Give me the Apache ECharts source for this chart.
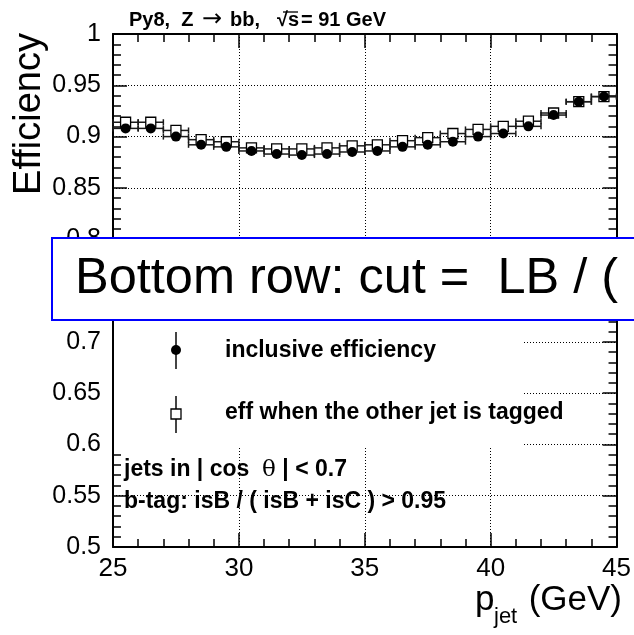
<!DOCTYPE html>
<html>
<head>
<meta charset="utf-8">
<script src="https://cdn.jsdelivr.net/npm/echarts@6/dist/echarts.min.js"></script>
<style>
html, body { margin: 0; padding: 0; background: #fff; }
#chart { width: 634px; height: 635px; }
</style>
</head>
<body>
<div id="chart"></div>
<script>
// bins of 1 GeV in p_jet
const binCenters = [25.5, 26.5, 27.5, 28.5, 29.5, 30.5, 31.5, 32.5, 33.5, 34.5,
                    35.5, 36.5, 37.5, 38.5, 39.5, 40.5, 41.5, 42.5, 43.5, 44.5];
const binHalfWidth = 0.5;
// inclusive efficiency (filled circles)
const effInclusive = [0.908, 0.908, 0.900, 0.892, 0.890, 0.886, 0.883, 0.882, 0.883, 0.885,
                      0.886, 0.890, 0.892, 0.895, 0.900, 0.903, 0.910, 0.921, 0.934, 0.939];
const errInclusive = [0.002, 0.002, 0.002, 0.002, 0.002, 0.002, 0.002, 0.002, 0.002, 0.002,
                      0.002, 0.002, 0.002, 0.002, 0.002, 0.002, 0.002, 0.002, 0.002, 0.002];
// efficiency when the other jet is tagged (open squares)
const effTagged = [0.914, 0.914, 0.906, 0.897, 0.895, 0.889, 0.888, 0.888, 0.889, 0.891,
                   0.892, 0.896, 0.899, 0.903, 0.907, 0.910, 0.915, 0.923, 0.934, 0.939];
const errTagged = [0.003, 0.003, 0.003, 0.003, 0.003, 0.003, 0.003, 0.003, 0.003, 0.003,
                   0.003, 0.003, 0.003, 0.003, 0.003, 0.003, 0.003, 0.003, 0.003, 0.003];

const xRange = [25, 45], xStep = 5;
const yRange = [0.5, 1], yStep = 0.05;

const FONT = 'Liberation Sans, Arial, Helvetica, sans-serif';

function pack(eff, err) {
  return binCenters.map((x, i) => [x, eff[i], err[i]]);
}

// horizontal bin-width bar with end caps + vertical stat error
function errorBar(params, api) {
  const x = api.value(0), y = api.value(1), e = api.value(2);
  const l = api.coord([x - binHalfWidth, y]);
  const r = api.coord([x + binHalfWidth, y]);
  const lo = api.coord([x, y - e]);
  const hi = api.coord([x, y + e]);
  const st = { stroke: '#1a1a1a', lineWidth: 1.5 };
  return {
    type: 'group',
    children: [
      { type: 'line', shape: { x1: l[0], y1: l[1], x2: r[0], y2: r[1] }, style: st },
      { type: 'line', shape: { x1: l[0], y1: l[1] - 3, x2: l[0], y2: l[1] + 3 }, style: st },
      { type: 'line', shape: { x1: r[0], y1: r[1] - 3, x2: r[0], y2: r[1] + 3 }, style: st },
      { type: 'line', shape: { x1: lo[0], y1: lo[1], x2: hi[0], y2: hi[1] }, style: st }
    ]
  };
}

const frameLine = { show: true, onZero: false, lineStyle: { color: '#000', width: 2 } };
const majorTick = { show: true, inside: true, length: 14, lineStyle: { color: '#000', width: 1.5 } };
const minorTick = { show: true, splitNumber: 5, length: 8, lineStyle: { color: '#000', width: 1.5 } };
const gridDots = { show: true, lineStyle: { color: '#000', width: 1, type: [1, 2] } };

const chart = echarts.init(document.getElementById('chart'), null, { renderer: 'canvas' });

const head = { font: 'bold 20px ' + FONT, fill: '#000', verticalAlign: 'middle' };

chart.setOption({
  backgroundColor: '#fff',
  animation: false,
  grid: { left: 113, right: 12, top: 34, bottom: 88 },
  xAxis: [
    {
      type: 'value', position: 'bottom', min: xRange[0], max: xRange[1], interval: xStep,
      axisLine: frameLine, axisTick: majorTick, minorTick: minorTick, splitLine: gridDots,
      axisLabel: { color: '#000', fontSize: 26, fontFamily: FONT, margin: 9 }
    },
    {
      type: 'value', position: 'top', min: xRange[0], max: xRange[1], interval: xStep,
      axisLine: frameLine, axisTick: majorTick, minorTick: minorTick,
      splitLine: { show: false }, axisLabel: { show: false }
    }
  ],
  yAxis: [
    {
      type: 'value', position: 'left', min: yRange[0], max: yRange[1], interval: yStep,
      axisLine: frameLine, axisTick: majorTick, minorTick: minorTick, splitLine: gridDots,
      axisLabel: {
        color: '#000', fontSize: 25, fontFamily: FONT, margin: 12,
        formatter: v => String(+v.toFixed(2))
      }
    },
    {
      type: 'value', position: 'right', min: yRange[0], max: yRange[1], interval: yStep,
      axisLine: frameLine, axisTick: majorTick, minorTick: minorTick,
      splitLine: { show: false }, axisLabel: { show: false }
    }
  ],
  series: [
    {
      name: 'tagged bars', type: 'custom', z: 2, renderItem: errorBar,
      encode: { x: 0, y: 1 }, data: pack(effTagged, errTagged)
    },
    {
      name: 'eff when the other jet is tagged', type: 'scatter', z: 3,
      symbol: 'rect', symbolSize: 10,
      itemStyle: { color: '#fff', borderColor: '#000', borderWidth: 1.3, opacity: 1 },
      data: pack(effTagged, errTagged)
    },
    {
      name: 'inclusive bars', type: 'custom', z: 4, renderItem: errorBar,
      encode: { x: 0, y: 1 }, data: pack(effInclusive, errInclusive)
    },
    {
      name: 'inclusive efficiency', type: 'scatter', z: 5,
      symbol: 'circle', symbolSize: 10,
      itemStyle: { color: '#000', opacity: 1 },
      data: pack(effInclusive, errInclusive)
    }
  ],
  graphic: [
    // header, placed piece by piece like the TLatex spacing
    { type: 'text', x: 129, y: 20, z: 50, style: Object.assign({ text: 'Py8,  Z' }, head) },
    { type: 'text', x: 212, y: 20, z: 50, style: Object.assign({}, head, { text: '\u2192', font: '24px DejaVu Sans, sans-serif', align: 'center' }) },
    { type: 'text', x: 230, y: 20, z: 50, style: Object.assign({ text: 'bb,' }, head) },
    { type: 'text', x: 277, y: 20, z: 50, style: Object.assign({ text: '\u221As' }, head) },
    { type: 'line', z: 50, shape: { x1: 283, y1: 12, x2: 298, y2: 12 }, style: { stroke: '#000', lineWidth: 1.3 } },
    { type: 'text', x: 301, y: 20, z: 50, style: Object.assign({ text: '= 91 GeV' }, head) },
    // axis titles
    {
      type: 'text', x: 30, y: 33, rotation: Math.PI / 2, z: 50,
      style: { text: 'Efficiency', font: '38px ' + FONT, fill: '#000', align: 'right', verticalAlign: 'middle' }
    },
    {
      type: 'text', x: 622, y: 600, z: 50,
      style: { text: '(GeV)', font: '35px ' + FONT, fill: '#000', align: 'right', verticalAlign: 'middle' }
    },
    {
      type: 'text', x: 475, y: 600, z: 50,
      style: { text: 'p', font: '35px ' + FONT, fill: '#000', align: 'left', verticalAlign: 'middle' }
    },
    {
      type: 'text', x: 494, y: 617, z: 50,
      style: { text: 'jet', font: '22px ' + FONT, fill: '#000', align: 'left', verticalAlign: 'middle' }
    },
    // legend box
    {
      type: 'rect', z: 20, shape: { x: 114, y: 300, width: 408, height: 146 },
      style: { fill: '#fff' }
    },
    {
      type: 'line', z: 21, shape: { x1: 176, y1: 332, x2: 176, y2: 369 },
      style: { stroke: '#444', lineWidth: 2 }
    },
    {
      type: 'circle', z: 22, shape: { cx: 176, cy: 350, r: 5 }, style: { fill: '#000' }
    },
    {
      type: 'text', z: 22, x: 225, y: 351,
      style: { text: 'inclusive efficiency', font: 'bold 23px ' + FONT, fill: '#000', verticalAlign: 'middle' }
    },
    {
      type: 'line', z: 21, shape: { x1: 176, y1: 396, x2: 176, y2: 433 },
      style: { stroke: '#444', lineWidth: 2 }
    },
    {
      type: 'rect', z: 22, shape: { x: 171, y: 409, width: 10, height: 10 },
      style: { fill: '#fff', stroke: '#000', lineWidth: 1.3 }
    },
    {
      type: 'text', z: 22, x: 225, y: 413,
      style: { text: 'eff when the other jet is tagged', font: 'bold 23px ' + FONT, fill: '#000', verticalAlign: 'middle' }
    },
    // selection notes
    {
      type: 'text', z: 22, x: 124, y: 470,
      style: {
        text: '{a|jets in | cos  }{t|\u03B8}{a| | < 0.7}',
        rich: {
          a: { font: 'bold 23px ' + FONT, fill: '#000' },
          t: { font: '23px DejaVu Serif, serif', fill: '#000' }
        },
        verticalAlign: 'middle'
      }
    },
    {
      type: 'text', z: 22, x: 124, y: 502,
      style: { text: 'b-tag: isB / ( isB + isC ) > 0.95', font: 'bold 23px ' + FONT, fill: '#000', verticalAlign: 'middle' }
    },
    // overlay banner
    {
      type: 'rect', z: 100, shape: { x: 52, y: 238, width: 600, height: 82 },
      style: { fill: '#fff', stroke: '#0000ff', lineWidth: 2 }
    },
    {
      type: 'text', z: 101, x: 75, y: 279,
      style: { text: 'Bottom row: cut =  LB / (', font: '50.5px ' + FONT, fill: '#000', verticalAlign: 'middle' }
    }
  ]
});
</script>
</body>
</html>
